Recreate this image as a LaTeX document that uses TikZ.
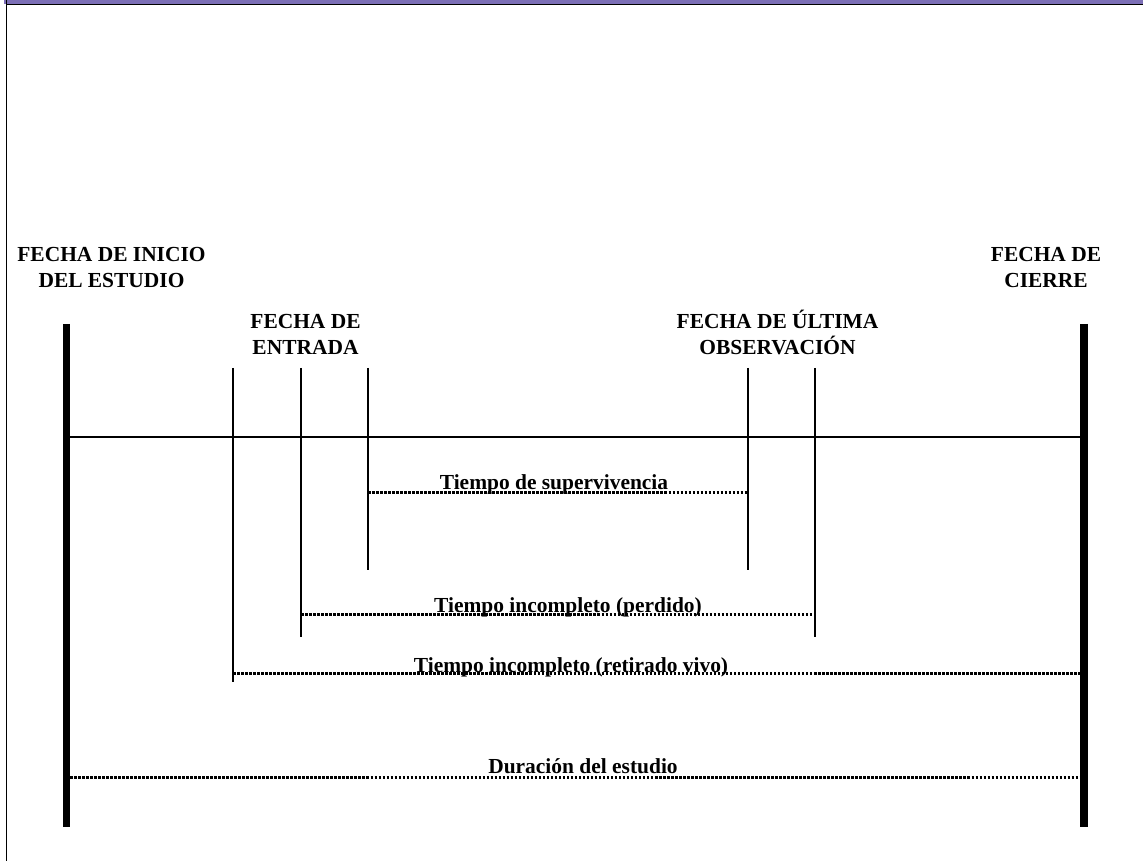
\documentclass[tikz,border=0pt]{standalone}
\usepackage{fontspec}
\setmainfont{Liberation Serif}

\definecolor{bandpurple}{RGB}{124,111,182}

\tikzset{
    datetext/.style={font=\bfseries\fontsize{6.1}{7.4}\selectfont, align=center, inner sep=0pt, anchor=base},
    studybar/.style={line width=2.1pt},
    dateline/.style={line width=0.3pt},
    timeline/.style={line width=0.85pt, dash pattern=on 0.72pt off 0.42pt},
}

\begin{document}
\begin{tikzpicture}
    \useasboundingbox (0,0) rectangle (11.43,8.61);
    \fill[white] (0,0) rectangle (11.43,8.61);

    % Frame: purple band on top, thin rule on the left
    \fill[bandpurple] (0.04,8.565) rectangle (11.43,8.61);
    \draw[line width=0.35pt] (0.065,8.565) -- (11.43,8.565);
    \draw[line width=0.4pt] (0.065,8.61) -- (0.065,0);

    % Study start and closing bars
    \coordinate (start top) at (0.665,5.37);
    \coordinate (start bottom) at (0.665,0.34);
    \coordinate (close top) at (10.84,5.37);
    \coordinate (close bottom) at (10.84,0.34);
    \draw[studybar] (start top) -- (start bottom);
    \draw[studybar] (close top) -- (close bottom);

    % Calendar axis
    \draw[line width=0.57pt] (0.70,4.24) -- (10.80,4.24);

    % Entry dates (left) and last observation dates (right)
    \coordinate (ret top) at (2.33,4.93);
    \coordinate (ret bottom) at (2.33,1.79);
    \coordinate (lost top) at (3.01,4.93);
    \coordinate (lost bottom) at (3.01,2.24);
    \coordinate (surv top) at (3.68,4.93);
    \coordinate (surv bottom) at (3.68,2.91);
    \coordinate (survend top) at (7.48,4.93);
    \coordinate (survend bottom) at (7.48,2.91);
    \coordinate (lostend top) at (8.15,4.93);
    \coordinate (lostend bottom) at (8.15,2.24);
    \draw[dateline] (ret top) -- (ret bottom);
    \draw[dateline] (lost top) -- (lost bottom);
    \draw[dateline] (surv top) -- (surv bottom);
    \draw[dateline] (survend top) -- (survend bottom);
    \draw[dateline] (lostend top) -- (lostend bottom);

    % Dotted time spans
    \draw[timeline] (surv top |- 0,3.68) -- (survend top |- 0,3.68);
    \draw[timeline] (lost top |- 0,2.46) -- (lostend top |- 0,2.46);
    \draw[timeline] (ret top |- 0,1.87) -- (10.80,1.87);
    \draw[timeline] (0.70,0.83) -- (10.80,0.83);

    % Date labels (base is the last line)
    \node[datetext] (inicio) at (1.115,5.73) {FECHA DE INICIO\\DEL ESTUDIO};
    \node[datetext] (entrada) at (3.055,5.06) {FECHA DE\\ENTRADA};
    \node[datetext] (ultima) at (7.775,5.06) {FECHA DE ÚLTIMA\\OBSERVACIÓN};
    \node[datetext] (cierre) at (10.46,5.73) {FECHA DE\\CIERRE};

    % Span labels
    \node[datetext] (superv) at (5.54,3.71) {Tiempo de supervivencia};
    \node[datetext] (perdido) at (5.68,2.48) {Tiempo incompleto (perdido)};
    \node[datetext] (retirado) at (5.71,1.88) {Tiempo incompleto (retirado vivo)};
    \node[datetext] (duracion) at (5.83,0.87) {Duración del estudio};
\end{tikzpicture}
\end{document}
